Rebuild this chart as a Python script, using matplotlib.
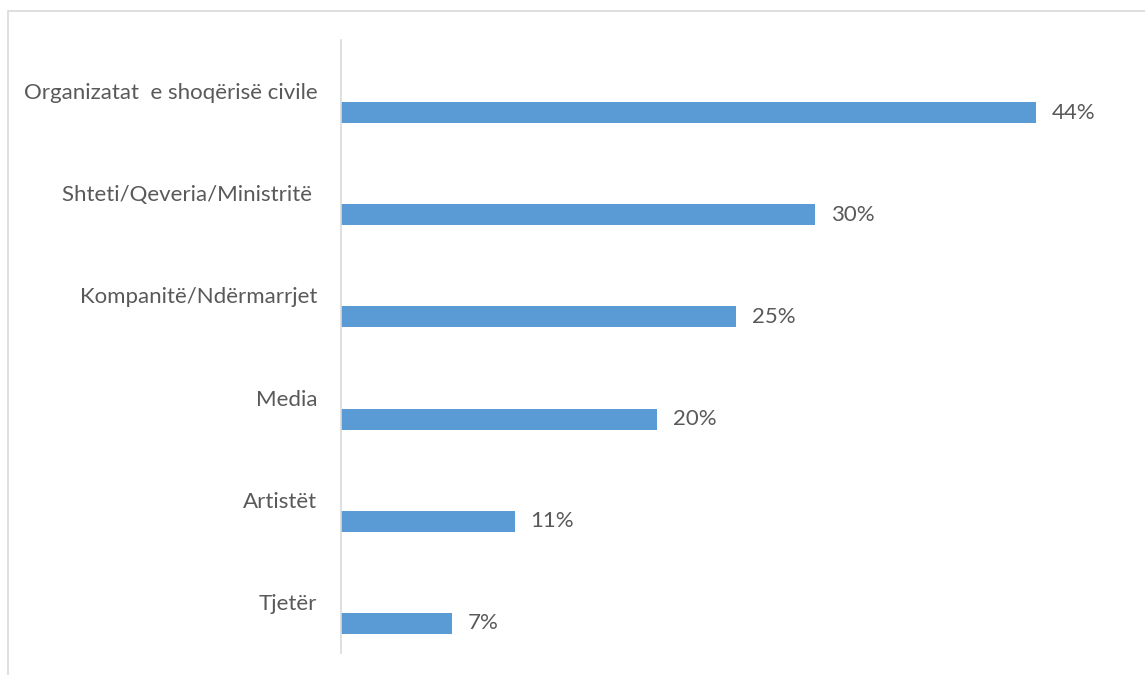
import matplotlib.pyplot as plt
from matplotlib.patches import Rectangle

categories = [
    "Organizatat  e shoqërisë civile",
    "Shteti/Qeveria/Ministritë ",
    "Kompanitë/Ndërmarrjet",
    "Media",
    "Artistët",
    "Tjetër",
]
values = [44, 30, 25, 20, 11, 7]

plt.rcParams["font.family"] = ["Lato", "DejaVu Sans"]
text_color = "#595959"
bar_color = "#5b9bd5"

fig = plt.figure(figsize=(11.45, 6.75), dpi=100)
# chart frame (only top and left edges fall inside the image)
fig.patches.append(Rectangle((8 / 1145, -0.1), 1.2, 1.1 - 11 / 675,
                             transform=fig.transFigure, fill=False,
                             edgecolor="#d9d9d9", linewidth=1.2))

ax = fig.add_axes([341 / 1145, 22 / 675, 0.69, 613 / 675])
pos = list(range(len(categories)))
ax.barh([p + 0.21 for p in pos], values, height=0.205, color=bar_color)

for p, v in zip(pos, values):
    ax.text(v + 1.0, p + 0.21, f"{v}%", va="center", ha="left",
            fontsize=16, color=text_color)

ax.set_xlim(0, 50)
ax.set_ylim(len(categories) - 0.5, -0.5)
ax.set_yticks(pos)
ax.set_yticklabels(categories, fontsize=16, color=text_color)
ax.tick_params(axis="y", length=0, pad=17)
ax.set_xticks([])
for side in ["top", "right", "bottom"]:
    ax.spines[side].set_visible(False)
ax.spines["left"].set_color("#d9d9d9")
ax.spines["left"].set_linewidth(1.2)

fig.savefig("out.png", dpi=100)
